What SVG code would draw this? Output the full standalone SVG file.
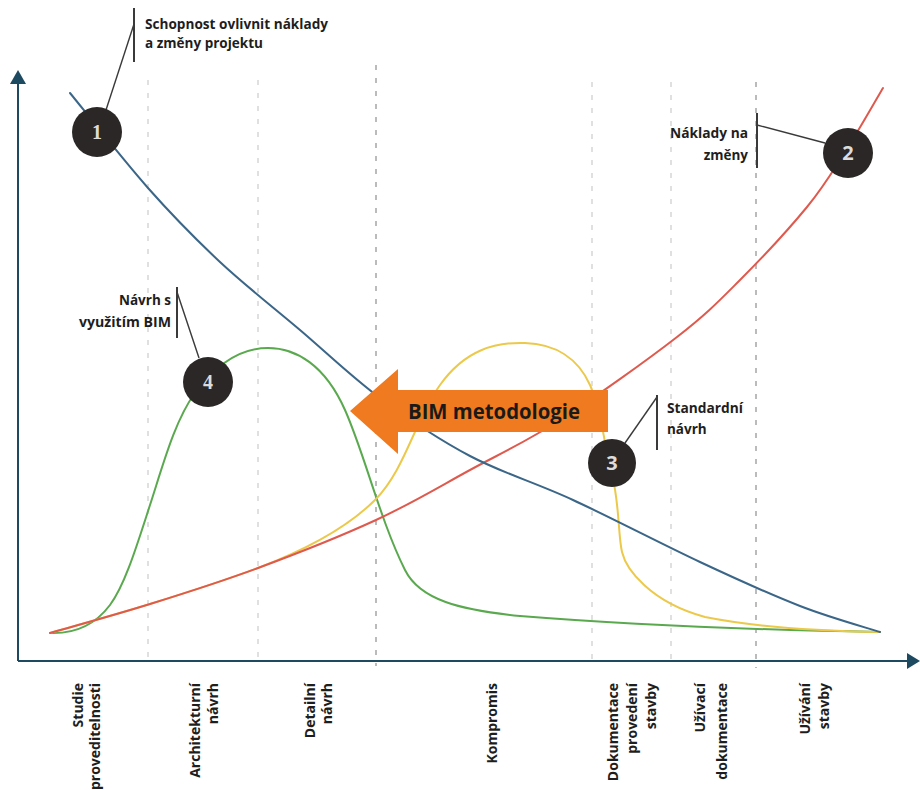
<svg xmlns="http://www.w3.org/2000/svg" width="920" height="790" viewBox="0 0 920 790">
  <style>
    .grid { stroke: #d6d6d6; stroke-width: 1.5; stroke-dasharray: 5 8; fill: none; }
    .grid.strong { stroke: #b4b4b4; stroke-width: 1.8; }
    .axis { stroke: #1d4a60; stroke-width: 2; fill: none; }
    .axis-head { fill: #1d4a60; }
    .curve { fill: none; stroke-width: 2; stroke-linecap: round; }
    .blue { stroke: #3b6688; }
    .red { stroke: #df5a4e; }
    .yellow { stroke: #ecc94a; }
    .green { stroke: #5aa94f; }
    .leader { stroke: #3a3a3a; stroke-width: 1.4; fill: none; }
    .bar { stroke: #3a3a3a; stroke-width: 2; }
    .badge { fill: #2b2727; }
    .num { fill: #dcdcdc; font-size: 20px; font-weight: 700; text-anchor: middle; }
    .serif { font-family: "Liberation Serif", "DejaVu Serif", serif; }
    .sans { font-family: "Open Sans", "Liberation Sans", sans-serif; }
    .lbl { font-family: "Open Sans", "Liberation Sans", sans-serif; font-size: 13.5px; font-weight: 700; fill: #1e1e1e; }
    .phase { font-family: "Open Sans", "Liberation Sans", sans-serif; font-size: 14px; font-weight: 700; fill: #1e1e1e; text-anchor: end; }
    .arrow-text { font-family: "Open Sans", "Liberation Sans", sans-serif; font-size: 20.5px; font-weight: 700; fill: #1a1a1a; }
  </style>

  <rect width="920" height="790" fill="#ffffff"/>

  <!-- phase separators -->
  <g id="gridlines">
    <line class="grid" x1="148" y1="80" x2="148" y2="660"/>
    <line class="grid" x1="258" y1="80" x2="258" y2="660"/>
    <line class="grid strong" x1="376" y1="65" x2="376" y2="666"/>
    <line class="grid" x1="592" y1="82" x2="592" y2="660"/>
    <line class="grid" x1="671" y1="82" x2="671" y2="660"/>
    <line class="grid strong" x1="756" y1="82" x2="756" y2="668"/>
  </g>

  <!-- axes -->
  <g id="axes">
    <line class="axis" x1="18" y1="661" x2="18" y2="80"/>
    <polygon class="axis-head" points="10,84 18,70 26,84"/>
    <line class="axis" x1="18" y1="661" x2="910" y2="661"/>
    <polygon class="axis-head" points="907,653 920,661 907,669"/>
  </g>

  <!-- curves -->
  <g id="connectors">
    <path id="curve-green" class="curve green" d="M50,633 C75,634 95,625 110,605 C125,585 137,545 150,505 C163,465 175,420 195,393 C215,366 240,348 268,348 C296,348 325,365 345,410 C365,455 380,520 405,570 C420,600 460,610 520,616 C620,624 760,630 880,632"/>
    <path id="curve-yellow" class="curve yellow" d="M50,633 C66.7,628.2 115.3,614.8 150,604 C184.7,593.2 220.3,582 258,568 C300,552 345,530 375,500 C405,470 415,420 440,385 C465,350 495,342 525,343 C555,344 578,358 590,385 C602,412 604,445 612,475 C619.5,503 618,535 622,552 C626,569 650,602 705,617 C760,628 820,631 880,632"/>
    <path id="curve-red" class="curve red" d="M50,633 C66.7,628.2 115.3,614.8 150,604 C184.7,593.2 220.3,582 258,568 C295.7,554 340.7,536.3 376,520 C411.3,503.7 439.3,486.7 470,470 C500.7,453.3 525.5,442.2 560,420 C594.5,397.8 647,360.3 677,337 C707,313.7 718.3,301.7 740,280 C761.7,258.3 789.5,228.3 807,207 C824.5,185.7 832.3,171.8 845,152 C857.7,132.2 876.7,98.7 883,88"/>
    <path id="curve-blue" class="curve blue" d="M70,93 C83,108.8 123,159.8 148,188 C173,216.2 194.7,238.3 220,262 C245.3,285.7 273.3,307.3 300,330 C326.7,352.7 351.7,377 380,398 C408.3,419 437.8,439 470,456 C502.2,473 534.7,482.3 573,500 C611.3,517.7 662.2,544.3 700,562 C737.8,579.7 770,594.3 800,606 C830,617.7 866.7,627.7 880,632"/>

    <!-- callout leaders -->
    <line class="bar" x1="134" y1="8" x2="134" y2="62"/>
    <line class="leader" x1="134" y1="24" x2="106" y2="110"/>
    <line class="bar" x1="757" y1="113" x2="757" y2="168"/>
    <line class="leader" x1="757" y1="125" x2="825" y2="143"/>
    <line class="bar" x1="657" y1="395" x2="657" y2="450"/>
    <line class="leader" x1="657" y1="397" x2="625" y2="443"/>
    <line class="bar" x1="177" y1="287" x2="177" y2="338"/>
    <line class="leader" x1="177" y1="292" x2="199" y2="358"/>
  </g>

  <!-- BIM arrow -->
  <g id="bim-arrow">
    <polygon points="350,411 398,369 398,390 608,390 608,432 398,432 398,454" fill="#ef7a1f"/>
    <text class="arrow-text" x="408" y="419" textLength="172" lengthAdjust="spacingAndGlyphs">BIM metodologie</text>
  </g>

  <!-- numbered markers -->
  <g id="marker-1">
    <circle class="badge" cx="97" cy="132" r="25"/>
    <text class="num serif" x="97" y="139">1</text>
  </g>
  <g id="marker-2">
    <circle class="badge" cx="848" cy="153" r="25"/>
    <text class="num sans" x="848" y="160">2</text>
  </g>
  <g id="marker-3">
    <circle class="badge" cx="612" cy="463" r="24"/>
    <text class="num sans" x="612" y="470">3</text>
  </g>
  <g id="marker-4">
    <circle class="badge" cx="208" cy="382" r="25"/>
    <text class="num serif" x="208" y="389">4</text>
  </g>

  <!-- callout texts -->
  <g id="label-1">
    <text class="lbl" x="145" y="29" textLength="183" lengthAdjust="spacingAndGlyphs">Schopnost ovlivnit náklady</text>
    <text class="lbl" x="145" y="48" textLength="118" lengthAdjust="spacingAndGlyphs">a změny projektu</text>
  </g>
  <g id="label-2">
    <text class="lbl" x="748" y="138" text-anchor="end" textLength="78" lengthAdjust="spacingAndGlyphs">Náklady na</text>
    <text class="lbl" x="748" y="160" text-anchor="end">změny</text>
  </g>
  <g id="label-3">
    <text class="lbl" x="667" y="413" textLength="76" lengthAdjust="spacingAndGlyphs">Standardní</text>
    <text class="lbl" x="667" y="434">návrh</text>
  </g>
  <g id="label-4">
    <text class="lbl" x="171" y="305" text-anchor="end">Návrh s</text>
    <text class="lbl" x="171" y="327" text-anchor="end" textLength="92" lengthAdjust="spacingAndGlyphs">využitím BIM</text>
  </g>

  <!-- phase names along the time axis -->
  <g id="phases">
    <text class="phase" transform="translate(83,683) rotate(-90)">Studie</text>
    <text class="phase" transform="translate(100,683) rotate(-90)">proveditelnosti</text>
    <text class="phase" transform="translate(200,683) rotate(-90)">Architekturní</text>
    <text class="phase" transform="translate(218,683) rotate(-90)">návrh</text>
    <text class="phase" transform="translate(315,683) rotate(-90)">Detailní</text>
    <text class="phase" transform="translate(332,683) rotate(-90)">návrh</text>
    <text class="phase" transform="translate(497,683) rotate(-90)">Kompromis</text>
    <text class="phase" transform="translate(618,683) rotate(-90)">Dokumentace</text>
    <text class="phase" transform="translate(637,683) rotate(-90)">provedení</text>
    <text class="phase" transform="translate(656,683) rotate(-90)">stavby</text>
    <text class="phase" transform="translate(705,683) rotate(-90)">Užívací</text>
    <text class="phase" transform="translate(727,683) rotate(-90)">dokumentace</text>
    <text class="phase" transform="translate(810,683) rotate(-90)">Užívání</text>
    <text class="phase" transform="translate(829,683) rotate(-90)">stavby</text>
  </g>
</svg>
